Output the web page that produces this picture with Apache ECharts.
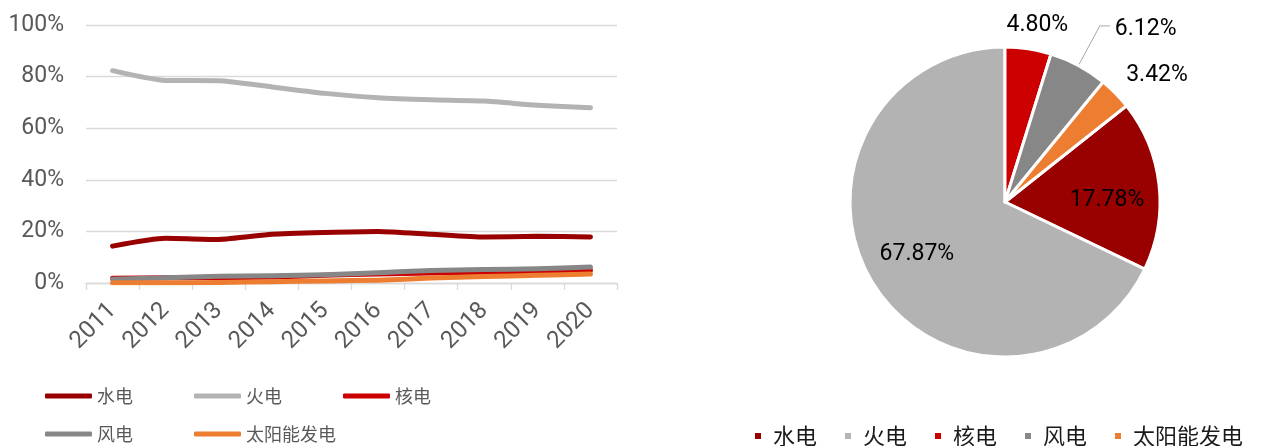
<!DOCTYPE html>
<html>
<head>
<meta charset="utf-8">
<script src="https://cdn.jsdelivr.net/npm/echarts@6/dist/echarts.min.js"></script>
<style>
  html, body { margin: 0; padding: 0; background: #fff; }
  #chart { width: 1270px; height: 446px; }
</style>
</head>
<body>
<div id="chart"></div>
<script>
    //////////DATA
    var years = ['2011', '2012', '2013', '2014', '2015', '2016', '2017', '2018', '2019', '2020'];
    var yTicks = [0, 20, 40, 60, 80, 100];
    var hydro   = [14.3, 17.3, 16.9, 18.9, 19.6, 20.0, 18.9, 17.8, 18.1, 17.8];
    var thermal = [82.3, 78.5, 78.4, 76.0, 73.5, 71.8, 71.0, 70.5, 68.9, 67.9];
    var nuclear = [1.8, 2.0, 2.1, 2.3, 3.0, 3.5, 3.9, 4.2, 4.6, 4.9];
    var wind    = [1.5, 2.0, 2.6, 2.8, 3.2, 4.0, 4.8, 5.2, 5.5, 6.2];
    var solar   = [0.1, 0.1, 0.2, 0.5, 0.8, 1.1, 1.9, 2.5, 3.0, 3.5];
    var names   = ['水电', '火电', '核电', '风电', '太阳能发电'];
    var share2020 = [17.78, 67.87, 4.80, 6.12, 3.42];
    //////////DATA

    var colors = ['#990000', '#b3b3b3', '#cc0000', '#878787', '#ed7d31'];
    var lines = [hydro, thermal, nuclear, wind, solar];

    //Ajuste manual de las etiquetas del pie (como en el original)
    var labelNudge = [
        {dx: 22, dy: 7},
        {dx: -20, dy: 9},
        {dx: -59, dy: -9},
        {dx: 0, dy: 3},
        {dx: -35, dy: -8}
    ];

    var chart = echarts.init(document.getElementById('chart'));

    var series = [];
    for (var i = 0; i < lines.length; i++) {
        series.push({
            name: names[i],
            type: 'line',
            data: lines[i],
            smooth: 0.2,
            symbol: 'none',
            color: colors[i],
            lineStyle: { width: 5, color: colors[i], cap: 'round', join: 'round' }
        });
    }

    var pieData = [];
    for (var j = 0; j < names.length; j++) {
        var big = share2020[j] > 10;
        pieData.push({
            name: names[j],
            value: share2020[j],
            itemStyle: { color: colors[j] },
            label: { position: big ? 'inside' : 'outside' },
            labelLine: names[j] == '风电'
                ? { show: true, length: 45, length2: 10, lineStyle: { color: '#a6a6a6', width: 1 } }
                : { show: false }
        });
    }

    series.push({
        type: 'pie',
        center: [1005, 202],
        radius: [0, 155],
        startAngle: 90 - (share2020[2] + share2020[3] + share2020[4]) / 100 * 360,
        clockwise: true,
        avoidLabelOverlap: false,
        data: pieData,
        itemStyle: { borderColor: '#fff', borderWidth: 3 },
        label: {
            formatter: function (p) { return p.value.toFixed(2) + '%'; },
            color: '#000',
            fontSize: 23,
            fontFamily: 'Roboto'
        },
        labelLayout: function (p) { return labelNudge[p.dataIndex]; },
        emphasis: { disabled: true }
    });

    var option = {
        animation: false,
        backgroundColor: '#fff',
        grid: { left: 86, right: 653, top: 25, bottom: 163 },
        xAxis: {
            type: 'category',
            data: years,
            axisLine: { lineStyle: { color: '#d9d9d9', width: 1.3 } },
            axisTick: { show: true, length: 7, lineStyle: { color: '#d9d9d9', width: 1.3 } },
            axisLabel: {
                rotate: 45,
                margin: 24,
                fontSize: 24,
                fontFamily: 'Roboto',
                color: '#595959'
            }
        },
        yAxis: {
            type: 'value',
            min: yTicks[0],
            max: yTicks[yTicks.length - 1],
            interval: yTicks[1] - yTicks[0],
            axisLine: { show: false },
            axisTick: { show: false },
            splitLine: { lineStyle: { color: '#d9d9d9', width: 1.3 } },
            axisLabel: {
                formatter: '{value}%',
                margin: 22,
                fontSize: 23,
                fontFamily: 'Roboto',
                color: '#595959'
            }
        },
        legend: [
            {
                data: names.slice(0, 3),
                left: 40, top: 382,
                icon: 'roundRect',
                itemWidth: 47, itemHeight: 5, itemGap: 61,
                textStyle: { fontSize: 18, color: '#595959', fontFamily: 'Noto Sans CJK SC' }
            },
            {
                data: names.slice(3),
                left: 40, top: 420,
                icon: 'roundRect',
                itemWidth: 47, itemHeight: 5, itemGap: 61,
                textStyle: { fontSize: 18, color: '#595959', fontFamily: 'Noto Sans CJK SC' }
            },
            {
                data: names,
                left: 750, top: 420,
                icon: 'rect',
                itemWidth: 6, itemHeight: 6, itemGap: 28,
                itemStyle: { borderWidth: 0 },
                formatter: function (n) { return '{t|' + n + '}'; },
                textStyle: {
                    fontSize: 22, color: '#1a1a1a', fontFamily: 'Noto Sans CJK SC',
                    rich: { t: { fontSize: 22, color: '#1a1a1a', fontFamily: 'Noto Sans CJK SC', padding: [0, 0, 0, 7] } }
                }
            }
        ],
        series: series
    };

    chart.setOption(option);
</script>
</body>
</html>
